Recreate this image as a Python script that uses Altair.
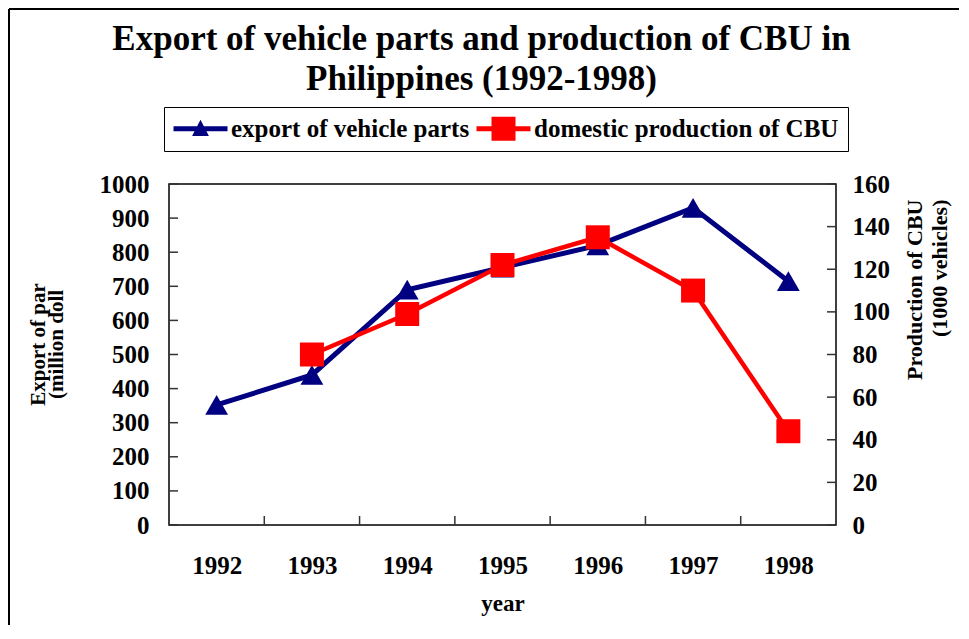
import altair as alt
import pandas as pd

# ---- data ----
years = [1992, 1993, 1994, 1995, 1996, 1997, 1998]
export_parts = [352, 440, 690, 755, 820, 930, 715]          # million dollars
cbu_years = [1993, 1994, 1995, 1996, 1997, 1998]
cbu_production = [80, 99, 122, 135, 110, 44]                 # 1000 vehicles
left_ticks = [0, 100, 200, 300, 400, 500, 600, 700, 800, 900, 1000]
right_ticks = [0, 20, 40, 60, 80, 100, 120, 140, 160]
x_boundaries = [1992.5, 1993.5, 1994.5, 1995.5, 1996.5, 1997.5]
series_names = ["export of vehicle parts", "domestic production of CBU"]
series_colors = ["#000080", "#ff0000"]

W, H = 667, 341
FONT = "Liberation Serif"

export_df = pd.DataFrame({"year": years, "value": export_parts})
cbu_df = pd.DataFrame({"year": cbu_years, "value": cbu_production})
lt_df = pd.DataFrame({"value": left_ticks})
rt_df = pd.DataFrame({"value": right_ticks})
xb_df = pd.DataFrame({"year": x_boundaries})
legend_df = pd.DataFrame({"series": series_names})
one_df = pd.DataFrame({"a": [0]})

x_axis = alt.Axis(values=years, format="d", ticks=False, tickSize=0, domain=False,
                  grid=False, labelPadding=28, labelFontSize=25, title="year",
                  titleFontSize=23, titlePadding=14)
x_enc = alt.X("year:Q", scale=alt.Scale(domain=[1991.5, 1998.5], nice=False, zero=False),
              axis=x_axis)

left_axis = alt.Axis(values=left_ticks, format="d", ticks=False, tickSize=0, domain=False,
                     grid=False, labelPadding=20, labelFontSize=25,
                     title=["Export  of  par", "(million doll"], titleFontSize=21,
                     titleAngle=270, titleAlign="center", titleBaseline="bottom",
                     titleX=-121, titleY=160, titleLineHeight=18)
right_axis = alt.Axis(values=right_ticks, format="d", ticks=False, tickSize=0, domain=False,
                      grid=False, labelPadding=16, labelFontSize=25, orient="right",
                      title=["Production of CBU", "(1000 vehicles)"], titleFontSize=22,
                      titleAngle=270, titleAlign="right", titleBaseline="bottom",
                      titleX=90, titleY=15, titleLineHeight=25)

y_left = alt.Y("value:Q", scale=alt.Scale(domain=[0, 1000], nice=False), axis=left_axis)
y_right = alt.Y("value:Q", scale=alt.Scale(domain=[0, 160], nice=False), axis=right_axis)

# legend symbols: line with marker
tri_path = "M-2.25,-0.2H2.25V0.2H-2.25Z M-0.7,0.6L0,-0.75L0.7,0.6Z"
sq_path = "M-2.25,-0.2H2.25V0.2H-2.25Z M-1,-1H1V1H-1Z"
legend_spec = alt.Legend(title=None, orient="none", legendX=-5, legendY=-77,
                         direction="horizontal", symbolSize=576, symbolStrokeWidth=0,
                         symbolOpacity=1, symbolOffset=15, labelOffset=18, columnPadding=6,
                         labelFont=FONT, labelFontSize=25, labelFontWeight="bold",
                         labelColor="black", labelLimit=400,
                         strokeColor="black", fillColor="white", padding=9)

legend_layer = alt.Chart(legend_df).transform_filter(
    alt.datum.series == "__none__"
).mark_point(filled=True, opacity=1).encode(
    color=alt.Color("series:N", scale=alt.Scale(domain=series_names, range=series_colors),
                    legend=legend_spec),
    shape=alt.Shape("series:N", scale=alt.Scale(domain=series_names, range=[tri_path, sq_path]),
                    legend=legend_spec),
)

blue_line = alt.Chart(export_df).mark_line(color="#000080", strokeWidth=5).encode(x=x_enc, y=y_left)
blue_pts = alt.Chart(export_df).mark_point(shape="triangle-up", filled=True, color="#000080",
                                           size=520, opacity=1).encode(x=x_enc, y=y_left)
left_tick_rules = alt.Chart(lt_df).mark_rule(color="#333333", strokeWidth=1.5).encode(
    y=y_left, x=alt.value(0), x2=alt.value(9))
x_tick_rules = alt.Chart(xb_df).mark_rule(color="#333333", strokeWidth=1.5).encode(
    x=x_enc, y=alt.value(H - 9), y2=alt.value(H))
frame_top = alt.Chart(one_df).mark_rule(color="black", strokeWidth=2).encode(
    x=alt.value(-160), x2=alt.value(790), y=alt.value(-175))
frame_left = alt.Chart(one_df).mark_rule(color="black", strokeWidth=2).encode(
    x=alt.value(-160), y=alt.value(-175), y2=alt.value(H + 110))

red_line = alt.Chart(cbu_df).mark_line(color="#ff0000", strokeWidth=4.5).encode(x=x_enc, y=y_right)
red_pts = alt.Chart(cbu_df).mark_point(shape="square", filled=True, color="#ff0000",
                                       size=576, opacity=1).encode(x=x_enc, y=y_right)
right_tick_rules = alt.Chart(rt_df).mark_rule(color="#333333", strokeWidth=1.5).encode(
    y=y_right, x=alt.value(W - 9), x2=alt.value(W))

left_group = alt.layer(frame_top, frame_left, blue_line, blue_pts, left_tick_rules,
                       x_tick_rules, legend_layer)
right_group = alt.layer(red_line, red_pts, right_tick_rules)

chart = alt.layer(left_group, right_group).resolve_scale(y="independent").properties(
    width=W, height=H,
    title=alt.TitleParams(
        text=["Export of vehicle parts and production of CBU in", "Philippines (1992-1998)"],
        font=FONT, fontSize=35, fontWeight="bold", color="black",
        anchor="middle", dx=-21, dy=99, lineHeight=40, offset=10),
    autosize=alt.AutoSizeParams(type="none"),
    padding={"left": 161, "top": 176, "right": 125, "bottom": 100},
    background="white",
).configure_view(
    fill="#c0c0c0", stroke="black", strokeWidth=1.5
).configure_axis(
    labelFont=FONT, labelFontWeight="bold", labelColor="black",
    titleFont=FONT, titleFontWeight="bold", titleColor="black",
)

chart.save("out.html", embed_options={"renderer": "svg", "actions": False})
